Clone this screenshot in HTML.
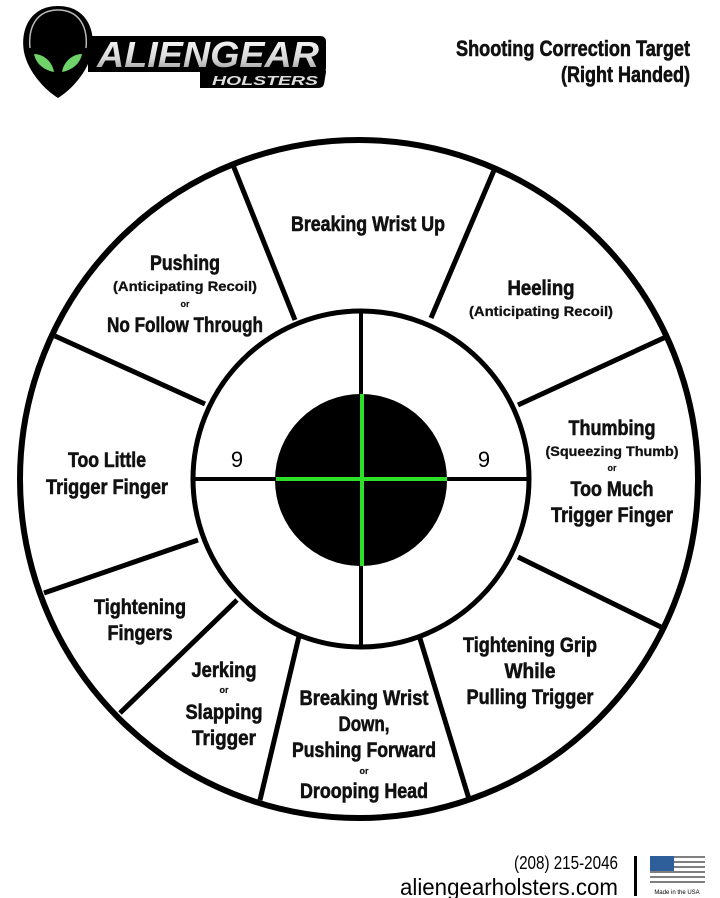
<!DOCTYPE html>
<html><head><meta charset="utf-8"><style>
html,body{margin:0;padding:0;background:#fff;}
svg{display:block;}
.t{font-family:"Liberation Sans",sans-serif;font-weight:bold;text-anchor:middle;fill:#111;stroke:#111;stroke-width:0.6;}
.b{font-size:21px;}
.s{font-size:14px;stroke-width:0.3;}
.o{font-size:9px;stroke-width:0.2;}
</style></head><body>
<svg width="720" height="898" viewBox="0 0 720 898" xmlns="http://www.w3.org/2000/svg">
<defs>
<linearGradient id="sil" x1="0" y1="0" x2="0" y2="1">
<stop offset="0" stop-color="#ffffff"/><stop offset="0.6" stop-color="#d8d8d8"/><stop offset="1" stop-color="#8a8a8a"/>
</linearGradient>
</defs>
<!-- logo -->
<path d="M88 36 L320 36 Q326 36 326 42 L326 68 Q326 72 320 72 L88 72 Z" fill="#000"/>
<path d="M200 68 L322 68 Q326 68 326 72 L324 84 Q323 88 318 88 L200 88 Z" fill="#000"/>
<path d="M58 6 C30 6 20 30 24 52 C28 72 45 90 58 98 C71 90 88 72 92 52 C96 30 86 6 58 6 Z" fill="#000"/>
<path d="M58 10 C36 10 28 28 30 48" stroke="#bbb" stroke-width="1.5" fill="none"/>
<path d="M58 10 C80 10 88 28 86 48" stroke="#bbb" stroke-width="1.5" fill="none"/>
<path d="M34 54 C42 54 52 60 54 72 C44 70 36 64 34 54 Z" fill="#6fd36a"/>
<path d="M82 54 C74 54 64 60 62 72 C72 70 80 64 82 54 Z" fill="#6fd36a"/>
<text x="97" y="67" font-family="Liberation Sans" font-weight="bold" font-style="italic" font-size="36" fill="url(#sil)" textLength="222" lengthAdjust="spacingAndGlyphs">ALIENGEAR</text>
<text x="212" y="85" font-family="Liberation Sans" font-weight="bold" font-style="italic" font-size="13" fill="#ddd" textLength="106" lengthAdjust="spacingAndGlyphs">HOLSTERS</text>
<!-- header -->
<text x="690" y="56" class="t" style="text-anchor:end;font-size:22px" textLength="234" lengthAdjust="spacingAndGlyphs">Shooting Correction Target</text>
<text x="690" y="82" class="t" style="text-anchor:end;font-size:22px" textLength="129" lengthAdjust="spacingAndGlyphs">(Right Handed)</text>
<!-- target -->
<circle cx="359" cy="479" r="339" fill="#fff" stroke="#000" stroke-width="6"/>
<g stroke="#000" stroke-width="5" stroke-linecap="butt">
<line x1="295" y1="320" x2="233" y2="165"/>
<line x1="431" y1="318" x2="495" y2="168"/>
<line x1="518" y1="405" x2="668" y2="336"/>
<line x1="518" y1="557" x2="665" y2="629"/>
<line x1="205" y1="404" x2="55" y2="336"/>
<line x1="198" y1="540" x2="44" y2="593"/>
<line x1="237" y1="600" x2="120" y2="713"/>
<line x1="300" y1="632" x2="260" y2="800"/>
<line x1="418" y1="632" x2="469" y2="799"/>
</g>
<circle cx="361" cy="479" r="168" fill="#fff" stroke="#000" stroke-width="5"/>
<line x1="193" y1="479" x2="529" y2="479" stroke="#000" stroke-width="4"/>
<line x1="361" y1="311" x2="361" y2="647" stroke="#000" stroke-width="4"/>
<circle cx="361" cy="480" r="86" fill="#000"/>
<line x1="276" y1="479" x2="447" y2="479" stroke="#2ee02a" stroke-width="4"/>
<line x1="362" y1="394" x2="362" y2="566" stroke="#2ee02a" stroke-width="4"/>
<text x="237" y="467" font-family="Liberation Sans" font-size="22" text-anchor="middle">9</text>
<text x="484" y="467" font-family="Liberation Sans" font-size="22" text-anchor="middle">9</text>
<!-- labels -->
<text class="t b" x="368" y="231" textLength="154" lengthAdjust="spacingAndGlyphs">Breaking Wrist Up</text>
<text class="t b" x="185" y="270" textLength="70" lengthAdjust="spacingAndGlyphs">Pushing</text>
<text class="t s" x="185" y="291" textLength="144" lengthAdjust="spacingAndGlyphs">(Anticipating Recoil)</text>
<text class="t o" x="185" y="307">or</text>
<text class="t b" x="185" y="332" textLength="156" lengthAdjust="spacingAndGlyphs">No Follow Through</text>
<text class="t b" x="541" y="295" textLength="67" lengthAdjust="spacingAndGlyphs">Heeling</text>
<text class="t s" x="541" y="316" textLength="144" lengthAdjust="spacingAndGlyphs">(Anticipating Recoil)</text>
<text class="t b" x="612" y="435" textLength="87" lengthAdjust="spacingAndGlyphs">Thumbing</text>
<text class="t s" x="612" y="456" textLength="133" lengthAdjust="spacingAndGlyphs">(Squeezing Thumb)</text>
<text class="t o" x="612" y="471">or</text>
<text class="t b" x="612" y="496" textLength="83" lengthAdjust="spacingAndGlyphs">Too Much</text>
<text class="t b" x="612" y="522" textLength="122" lengthAdjust="spacingAndGlyphs">Trigger Finger</text>
<text class="t b" x="107" y="467" textLength="78" lengthAdjust="spacingAndGlyphs">Too Little</text>
<text class="t b" x="107" y="494" textLength="122" lengthAdjust="spacingAndGlyphs">Trigger Finger</text>
<text class="t b" x="140" y="614" textLength="92" lengthAdjust="spacingAndGlyphs">Tightening</text>
<text class="t b" x="140" y="640" textLength="65" lengthAdjust="spacingAndGlyphs">Fingers</text>
<text class="t b" x="530" y="652" textLength="134" lengthAdjust="spacingAndGlyphs">Tightening Grip</text>
<text class="t b" x="530" y="678" textLength="51" lengthAdjust="spacingAndGlyphs">While</text>
<text class="t b" x="530" y="704" textLength="127" lengthAdjust="spacingAndGlyphs">Pulling Trigger</text>
<text class="t b" x="224" y="677" textLength="65" lengthAdjust="spacingAndGlyphs">Jerking</text>
<text class="t o" x="224" y="693">or</text>
<text class="t b" x="224" y="719" textLength="77" lengthAdjust="spacingAndGlyphs">Slapping</text>
<text class="t b" x="224" y="745" textLength="64" lengthAdjust="spacingAndGlyphs">Trigger</text>
<text class="t b" x="364" y="705" textLength="129" lengthAdjust="spacingAndGlyphs">Breaking Wrist</text>
<text class="t b" x="364" y="731" textLength="51" lengthAdjust="spacingAndGlyphs">Down,</text>
<text class="t b" x="364" y="757" textLength="144" lengthAdjust="spacingAndGlyphs">Pushing Forward</text>
<text class="t o" x="364" y="774">or</text>
<text class="t b" x="364" y="798" textLength="128" lengthAdjust="spacingAndGlyphs">Drooping Head</text>
<!-- footer -->
<text x="618" y="869" font-family="Liberation Sans,sans-serif" font-size="18" text-anchor="end" textLength="104" lengthAdjust="spacingAndGlyphs">(208) 215-2046</text>
<text x="618" y="895" font-family="Liberation Sans,sans-serif" font-size="23" text-anchor="end" textLength="218" lengthAdjust="spacingAndGlyphs">aliengearholsters.com</text>
<rect x="634" y="856" width="3" height="40" fill="#000"/>
<rect x="650" y="856" width="24" height="15" fill="#2f5f9a"/>
<g stroke="#555" stroke-width="1.5">
<line x1="674" y1="857" x2="705" y2="857"/><line x1="674" y1="862" x2="705" y2="862"/>
<line x1="674" y1="867" x2="705" y2="867"/><line x1="650" y1="872" x2="705" y2="872"/>
<line x1="650" y1="877" x2="705" y2="877"/><line x1="650" y1="882" x2="705" y2="882"/>
</g>
<text x="677" y="894" font-family="Liberation Sans,sans-serif" font-size="6" text-anchor="middle">Made in the USA</text>
</svg>
</body></html>
